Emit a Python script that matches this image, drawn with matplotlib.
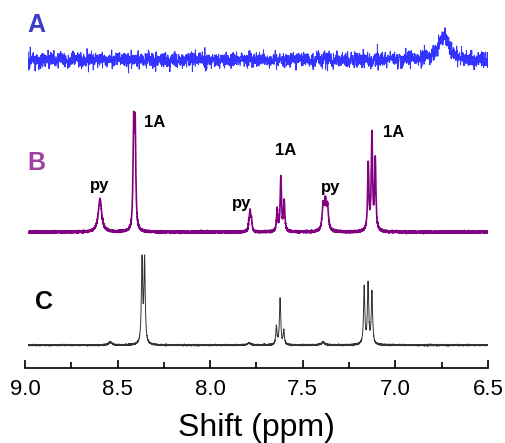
import matplotlib
matplotlib.use("Agg")
import matplotlib.pyplot as plt
import numpy as np

plt.rcParams['font.family'] = ['Liberation Sans', 'DejaVu Sans']

# chemical shift axis (ppm)
x_ticks = [9.0, 8.5, 8.0, 7.5, 7.0, 6.5]

# trace A: one broad signal on a noisy baseline
a_pos = [6.74]
a_height = [24]
a_hwhm = [0.035]

# trace B: py + 1A signals
b_pos = [8.595, 8.413, 8.405, 7.790, 7.784, 7.777,
         7.638, 7.618, 7.600, 7.390, 7.378, 7.366,
         7.146, 7.126, 7.108]
b_height = [33, 100, 98, 7, 18, 10,
            22, 54, 30, 24, 26, 23,
            66, 96, 70]
b_hwhm = [0.011, 0.004, 0.004, 0.004, 0.004, 0.004,
          0.004, 0.004, 0.004, 0.006, 0.006, 0.006,
          0.004, 0.004, 0.004]

# trace C: 1A alone
c_pos = [8.54, 8.368, 8.354, 7.79, 7.642, 7.622, 7.602, 7.39,
         7.168, 7.147, 7.126]
c_height = [3, 84, 84, 2, 18, 46, 14, 3, 58, 60, 52]
c_hwhm = [0.01, 0.004, 0.004, 0.01, 0.004, 0.004, 0.004, 0.01,
          0.004, 0.004, 0.004]

# labels on trace B (ppm, height above axis)
b_labels = [("py", 8.595, 183), ("1A", 8.30, 246), ("py", 7.83, 165),
            ("1A", 7.59, 218), ("py", 7.35, 181), ("1A", 7.01, 236)]


def spectrum(ppm, pos, height, hwhm):
    y = np.zeros_like(ppm)
    for p, h, w in zip(pos, height, hwhm):
        y += h * w**2 / ((ppm - p)**2 + w**2)
    return y


ppm = np.linspace(8.98, 6.49, 9000)
ppm_a = np.linspace(8.98, 6.49, 2600)
rng = np.random.default_rng(3)

fig = plt.figure(figsize=(5.05, 4.43), dpi=100)
ax = fig.add_axes([0.0495, 0.169, 0.9165, 0.831])

ya = spectrum(ppm_a, a_pos, a_height, a_hwhm) + rng.normal(0, 3.9, ppm_a.size)
yb = spectrum(ppm, b_pos, b_height, b_hwhm) + rng.normal(0, 0.5, ppm.size)
yc = spectrum(ppm, c_pos, c_height, c_hwhm) + rng.normal(0, 0.35, ppm.size)

ax.plot(ppm_a, ya + 308, color='#0000ff', lw=0.7, alpha=0.8)
ax.plot(ppm, yb + 136, color='#800080', lw=1.2)
ax.plot(ppm, yc + 23, color='#333333', lw=0.7)

ax.text(8.94, 343, "A", color='#3c3cc8', fontsize=18, fontweight='bold', ha='center', va='center')
ax.text(8.94, 205, "B", color='#a040a0', fontsize=18, fontweight='bold', ha='center', va='center')
ax.text(8.90, 66, "C", color='black', fontsize=18, fontweight='bold', ha='center', va='center')
for txt, xp, yp in b_labels:
    ax.text(xp, yp, txt, fontsize=12, fontweight='bold', ha='center', va='center')

ax.set_xlim(9.0, 6.5)
ax.set_ylim(0, 368)
ax.set_xticks(x_ticks)
ax.set_xticklabels([f"{t:.1f}" for t in x_ticks], fontsize=16)
ax.set_xticks(np.arange(6.75, 9.0, 0.5), minor=True)
ax.tick_params(axis='x', which='major', direction='in', length=6, width=1.2, pad=8)
ax.tick_params(axis='x', which='minor', direction='in', length=4, width=1.2)
ax.set_yticks([])
for s in ['top', 'left', 'right']:
    ax.spines[s].set_visible(False)
ax.spines['bottom'].set_linewidth(1.2)
ax.set_xlabel("Shift (ppm)", fontsize=23, labelpad=9)

fig.savefig("out.png", dpi=100)
